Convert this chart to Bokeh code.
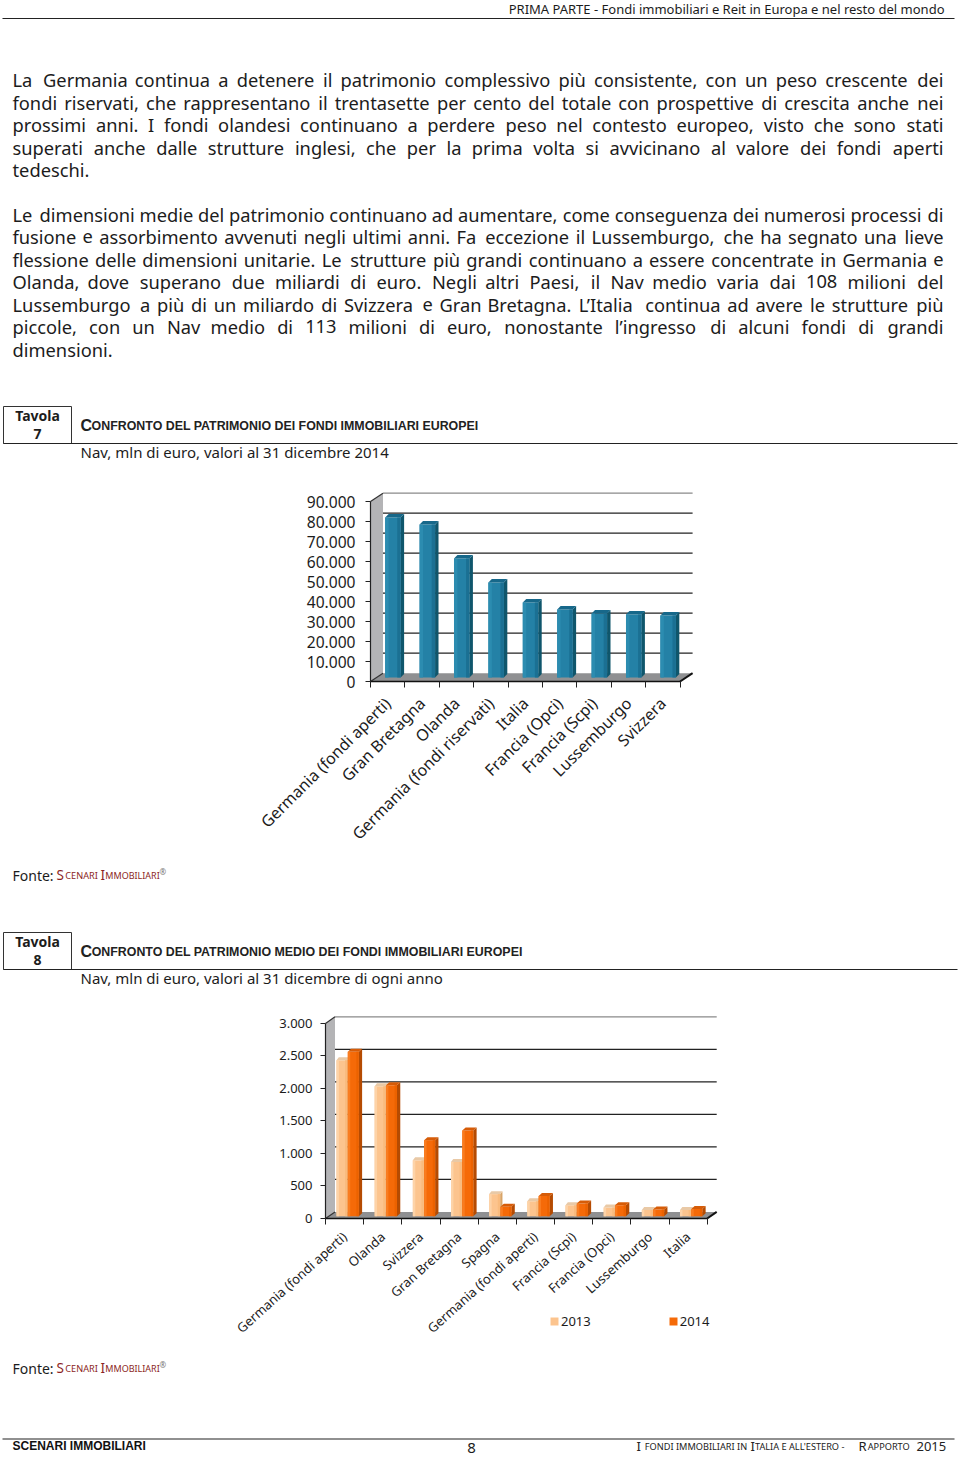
from bokeh.plotting import figure
from bokeh.layouts import column
from bokeh.embed import file_html
from bokeh.resources import INLINE
from bokeh.core.properties import value
from bokeh.models import Range1d, FixedTicker, LinearAxis, Legend, LegendItem
import math

para1 = ["La Germania continua a detenere il patrimonio complessivo più consistente, con un peso crescente dei",
         "fondi riservati, che rappresentano il trentasette per cento del totale con prospettive di crescita anche nei",
         "prossimi anni. I fondi olandesi continuano a perdere peso nel contesto europeo, visto che sono stati",
         "superati anche dalle strutture inglesi, che per la prima volta si avvicinano al valore dei fondi aperti",
         "tedeschi."]
para2 = ["Le dimensioni medie del patrimonio continuano ad aumentare, come conseguenza dei numerosi processi di",
         "fusione e assorbimento avvenuti negli ultimi anni. Fa eccezione il Lussemburgo, che ha segnato una lieve",
         "flessione delle dimensioni unitarie. Le strutture più grandi continuano a essere concentrate in Germania e",
         "Olanda, dove superano due miliardi di euro. Negli altri Paesi, il Nav medio varia dai 108 milioni del",
         "Lussemburgo a più di un miliardo di Svizzera e Gran Bretagna. L’Italia continua ad avere le strutture più",
         "piccole, con un Nav medio di 113 milioni di euro, nonostante l’ingresso di alcuni fondi di grandi",
         "dimensioni."]

cats1 = ["Germania (fondi aperti)", "Gran Bretagna", "Olanda", "Germania (fondi riservati)", "Italia",
         "Francia (Opci)", "Francia (Scpi)", "Lussemburgo", "Svizzera"]
vals1 = [80000, 76500, 59500, 47500, 37500, 34000, 32000, 31500, 31000]
ticks1 = [0, 10000, 20000, 30000, 40000, 50000, 60000, 70000, 80000, 90000]
tlabels1 = ["0", "10.000", "20.000", "30.000", "40.000", "50.000", "60.000", "70.000", "80.000", "90.000"]

cats2 = ["Germania (fondi aperti)", "Olanda", "Svizzera", "Gran Bretagna", "Spagna", "Germania (fondi aperti)",
         "Francia (Scpi)", "Francia (Opci)", "Lussemburgo", "Italia"]
vals2013 = [2400, 2000, 860, 835, 340, 230, 170, 135, 95, 95]
vals2014 = [2530, 2015, 1170, 1320, 145, 310, 195, 170, 105, 113]
ticks2 = [0, 500, 1000, 1500, 2000, 2500, 3000]
tlabels2 = ["0", "500", "1.000", "1.500", "2.000", "2.500", "3.000"]

W = 960
BODY = "Noto Sans"
INK = "#1c1c1c"
CW = dict(a=.561, b=.615, c=.48, d=.615, e=.564, f=.344, g=.615, h=.618, i=.258, j=.258, k=.534, l=.258, m=.935,
          n=.618, o=.605, p=.615, q=.615, r=.413, s=.479, t=.361, u=.618, v=.508, w=.786, x=.529, y=.51, z=.476)


def cw(ch):
    if ch in CW:
        return CW[ch]
    if ch == "ù":
        return .618
    if ch.isdigit():
        return .572
    if ch == " ":
        return .26
    if ch in ",.’'":
        return .268
    if ch in "()-":
        return .33
    if ch in "IJ":
        return .34
    return .66


def tw(s, size):
    return sum(cw(c) for c in s) * size


def section(top, bottom):
    p = figure(width=W, height=bottom - top, x_range=Range1d(0, W), y_range=Range1d(bottom, top),
               output_backend="svg", toolbar_location=None, min_border=0, outline_line_color=None,
               x_axis_location=None, y_axis_location=None, background_fill_color="white", border_fill_color="white",
               frame_align=False)
    p.grid.visible = False
    return p


def txt(p, x, y, s, size, font=BODY, style="normal", color=INK, align="left"):
    if align == "left":
        x -= 1
    p.text(x=[x], y=[y - 1], text=[s], text_font=value(font), text_font_size=value(f"{size}px"),
           text_font_style=value(style), text_color=color, text_align=value(align), text_baseline=value("middle"))


def justified(p, lines, ys, x0, x1, size):
    for line, y in zip(lines, ys):
        words = line.split(" ")
        if len(words) == 1:
            txt(p, x0, y, line, size)
            continue
        widths = [tw(w, size) for w in words]
        gap = (x1 - x0 - sum(widths)) / (len(words) - 1)
        xs, cur = [], x0 - 1
        for w in widths:
            xs.append(cur)
            cur += w + gap
        p.text(x=xs[:-1], y=[y - 1] * (len(xs) - 1), text=words[:-1], text_font=value(BODY),
               text_font_size=value(f"{size}px"), text_color=INK, text_baseline=value("middle"))
        txt(p, x1, y, words[-1], size, align="right")


def smallcaps(p, s, x0, x1, y, big, small, font, style, color):
    runs, cur, curlow = [], "", None
    for ch in s:
        if ch.isalpha():
            low = ch.islower()
        elif ch.isdigit():
            low = False
        else:
            low = curlow if curlow is not None else False
        if curlow is None or low == curlow:
            cur += ch
        else:
            runs.append((cur, curlow))
            cur = ch
        curlow = low
    runs.append((cur, curlow))
    ws = [tw(r.upper(), small if l else big) for r, l in runs]
    k = (x1 - x0) / sum(ws)
    x = x0
    for (r, l), w in zip(runs, ws):
        txt(p, x, y, r.upper(), small if l else big, font, style, color)
        x += w * k


def rule(p, x0, x1, y, w=1.2, c="#222222"):
    p.segment(x0=[x0], y0=[y], x1=[x1], y1=[y], line_color=c, line_width=w)


def tavola(p, n, title, sub, ytop, xend):
    p.quad(left=[3], right=[71], top=[ytop], bottom=[ytop + 37], fill_color="white", line_color="#333333", line_width=1)
    rule(p, 3, 957, ytop + 37)
    txt(p, 37, ytop + 10, "Tavola", 14, style="bold", align="center")
    txt(p, 37, ytop + 28, n, 14, style="bold", align="center")
    smallcaps(p, title, 81, xend, ytop + 20, 16, 12.4, "Liberation Sans", "bold", "#222222")
    txt(p, 81, ytop + 46, sub, 15)


def fonte(p, y):
    txt(p, 13, y, "Fonte:", 14)
    smallcaps(p, "Scenari ", 57, 101, y, 13.5, 9.2, BODY, "normal", "#8c1f24")
    smallcaps(p, "Immobiliari", 101, 159, y, 13.5, 9, BODY, "normal", "#8c1f24")
    txt(p, 160, y - 4, "®", 8, color="#777777")


def bars3d(p, lefts, vals, width, ddx, ddy, base, front, side, topc, lightc, darkc):
    r = p.quad(left=lefts, right=[l + width for l in lefts], bottom=[base] * len(vals), top=[base + v for v in vals],
               fill_color=front, line_color=None)
    sx, sy, tx, ty = [], [], [], []
    for l, v in zip(lefts, vals):
        t = base + v
        sx.append([l + width, l + width + ddx, l + width + ddx, l + width])
        sy.append([base, base + ddy, t + ddy, t])
        tx.append([l, l + width, l + width + ddx, l + ddx])
        ty.append([t, t, t + ddy, t + ddy])
    p.patches(sx, sy, fill_color=side, line_color=None)
    p.patches(tx, ty, fill_color=topc, line_color=None)
    p.quad(left=lefts, right=[l + width * .22 for l in lefts], bottom=[base] * len(vals),
           top=[base + v for v in vals], fill_color=lightc, line_color=None)
    p.quad(left=[l + width * .78 for l in lefts], right=[l + width for l in lefts], bottom=[base] * len(vals),
           top=[base + v for v in vals], fill_color=darkc, line_color=None)
    return r


FRAME_LEFT = 200


def chart(top, bottom, fl, fr, ft, fb, frame_bottom, n, cat_px, val_per_px, off_px, ticks, tlabels, cats, tick_fs,
          cat_fs, stand, cstand, angle):
    xs = -.5
    xstart = xs - (fl - FRAME_LEFT) / cat_px
    xe = xs + (fr - fl) / cat_px
    ye = (fb - ft) * val_per_px
    ys = -(frame_bottom - fb) * val_per_px
    p = figure(width=W, height=bottom - top, x_range=Range1d(xstart, xe), y_range=Range1d(ys, ye),
               output_backend="svg", toolbar_location=None, outline_line_color=None, frame_align=False,
               min_border_left=FRAME_LEFT, min_border_right=W - fr, min_border_top=ft - top,
               min_border_bottom=bottom - frame_bottom,
               x_axis_location=None, y_axis_location=None, background_fill_color="white", border_fill_color="white")
    p.grid.visible = False
    dx, dy = off_px[0] / cat_px, off_px[1] * val_per_px
    tmax = ticks[-1]
    p.patch([xs, xs + dx, xs + dx, xs], [0, dy, tmax + dy, tmax], fill_color="#b4b4b6", line_color=None)
    p.patch([xs, xs + n, xs + n + dx, xs + dx], [0, 0, dy, dy], fill_color="#8f9092", line_color=None)
    p.segment(x0=[xs + dx] * (len(ticks) - 2), x1=[xs + n + dx] * (len(ticks) - 2), y0=[t + dy for t in ticks[1:-1]],
              y1=[t + dy for t in ticks[1:-1]], line_color="#222222", line_width=1.3)
    p.segment(x0=[xs + dx], x1=[xs + n + dx], y0=[tmax + dy], y1=[tmax + dy], line_color="#8a8a8a", line_width=1.2)
    p.segment(x0=[xs + n], x1=[xs + n + dx], y0=[0], y1=[dy], line_color="#111111", line_width=2)
    p.segment(x0=[xs, xs], x1=[xs + dx, xs + dx], y0=[tmax, 0], y1=[tmax + dy, dy], line_color="#333333", line_width=1.2)
    ya = LinearAxis(ticker=FixedTicker(ticks=ticks), bounds=(0, tmax), fixed_location=xs,
                    major_label_overrides=dict(zip(ticks, tlabels)), major_tick_out=5, major_tick_in=0,
                    minor_tick_line_color=None, axis_line_color="#222222", major_tick_line_color="#222222",
                    axis_line_width=1.2, major_label_text_font=BODY, major_label_text_font_size=f"{tick_fs}px",
                    major_label_text_color=INK, major_label_standoff=stand)
    p.add_layout(ya, "left")
    idx = list(range(n))
    xa = LinearAxis(ticker=FixedTicker(ticks=idx, minor_ticks=[i - .5 for i in range(n + 1)]), bounds=(xs, xs + n),
                    major_label_overrides=dict(zip(idx, cats)), major_tick_line_color=None, major_tick_out=0,
                    major_tick_in=0, minor_tick_out=6, minor_tick_in=0, minor_tick_line_color="#222222",
                    axis_line_color="#111111", axis_line_width=1.4, major_label_orientation=angle,
                    major_label_text_font=BODY, major_label_text_font_size=f"{cat_fs}px",
                    major_label_text_color=INK, major_label_standoff=cstand, fixed_location=0)
    p.add_layout(xa, "below")
    return p


# --- top text
a = section(0, 480)
txt(a, 944, 9.5, "PRIMA PARTE - Fondi immobiliari e Reit in Europa e nel resto del mondo", 13, align="right")
rule(a, 2, 954, 18)
justified(a, para1, [80, 102.5, 125, 147.5, 170], 13, 943, 18.3)
justified(a, para2, [214.5, 237, 259.5, 282, 304.5, 327, 349.5], 13, 943, 18.3)
tavola(a, "7", "Confronto del patrimonio dei fondi immobiliari europei",
       "Nav, mln di euro, valori al 31 dicembre 2014", 406, 479)

# --- chart 1
c1 = chart(480, 860, 370, 694, 490, 681, 850, len(cats1), 34.4, 500, (12.5, 8.3), ticks1, tlabels1, cats1,
           15.6, 16, 10, 13, math.pi / 4)
left1 = [i - .5 + .427 for i in range(len(cats1))]
bars3d(c1, left1, vals1, .45, .1, 1700, 2000, "#2481a6", "#0f566c", "#17688a", "#2c8cb0", "#1b7093")

# --- middle text
b = section(860, 1005)
fonte(b, 875.5)
tavola(b, "8", "Confronto del patrimonio medio dei fondi immobiliari europei",
       "Nav, mln di euro, valori al 31 dicembre di ogni anno", 932, 523)

# --- chart 2
c2 = chart(1005, 1350, 325, 718, 1014, 1218, 1345, len(cats2), 38.17, 15.38, (9.5, 6.6), ticks2, tlabels2, cats2,
           13, 13, 8, 10, 0.733)
left_a = [i - .5 + .288 for i in range(len(cats2))]
left_b = [i - .5 + .584 for i in range(len(cats2))]
r13 = bars3d(c2, left_a, vals2013, .288, .06, 46, 35, "#fcc48e", "#d8a468", "#e9c9a6", "#fdd3a8", "#f9bb7e")
r14 = bars3d(c2, left_b, vals2014, .288, .087, 46, 35, "#f56a08", "#b54b02", "#d65c08", "#f97c20", "#ec6200")
leg = Legend(items=[LegendItem(label=value("2013"), renderers=[r13]), LegendItem(label=value("2014"), renderers=[r14])],
             orientation="horizontal", location=(349, 15), margin=0, padding=0, spacing=77, glyph_width=10,
             glyph_height=10, label_standoff=2, label_text_font=BODY, label_text_font_size="13px",
             label_text_color=INK, background_fill_alpha=0, border_line_color=None)
c2.add_layout(leg)

# --- bottom text
e = section(1350, 1457)
fonte(e, 1368.5)
rule(e, 2, 954, 1438.5)
txt(e, 13, 1446.5, "SCENARI IMMOBILIARI", 12, "Liberation Sans", "bold", "#111111")
txt(e, 471, 1448, "8", 15, align="center")
smallcaps(e, "I fondi immobiliari in ", 637, 751, 1446.5, 13, 9.2, BODY, "normal", "#222222")
smallcaps(e, "Italia e all'estero - ", 751, 859, 1446.5, 13, 9.2, BODY, "normal", "#222222")
smallcaps(e, "Rapporto", 859, 914, 1446.5, 13, 9.2, BODY, "normal", "#222222")
txt(e, 917, 1446.5, "2015", 13, color="#222222")

root = column(a, c1, b, c2, e, spacing=0)
open("out.html", "w").write(file_html(root, INLINE))
